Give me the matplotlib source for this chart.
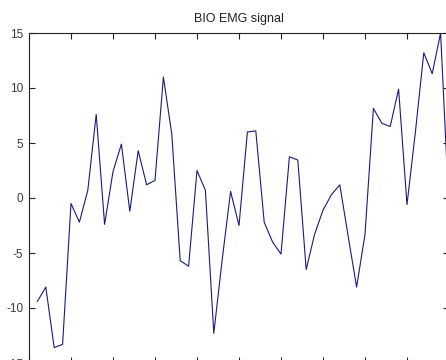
import numpy as np
import matplotlib
matplotlib.use("Agg")
import matplotlib.pyplot as plt

# ============================================================
# Data
# ============================================================
sample_idx = np.arange(1, 51)
emg_values = [
    -9.4, -8.1, -13.6, -13.3, -0.5, -2.2, 0.7, 7.6, -2.4, 2.4,
    4.9, -1.2, 4.3, 1.2, 1.6, 11.0, 5.8, -5.7, -6.2, 2.5,
    0.7, -12.3, -5.6, 0.6, -2.5, 6.0, 6.1, -2.2, -4.0, -5.1,
    3.75, 3.45, -6.5, -3.3, -1.1, 0.3, 1.2, -3.5, -8.1, -3.3,
    8.15, 6.8, 6.5, 9.9, -0.6, 6.0, 13.2, 11.3, 15.0, -1.0,
]
x_ticks = np.arange(0, 51, 5)
y_ticks = [-15, -10, -5, 0, 5, 10, 15]

# ============================================================
# MATLAB-like look
# ============================================================
plt.rcParams['font.family'] = ['Liberation Sans', 'DejaVu Sans']
plt.rcParams['axes.unicode_minus'] = False

W, H = 446, 360
fig = plt.figure(figsize=(W / 100, H / 100), dpi=100)
fig.patch.set_facecolor('white')

# axes box runs past the bottom/right edge (reference is a cropped figure)
ax = fig.add_axes([29 / W, -3 / H, 420 / W, 330 / H])
ax.plot(sample_idx, emg_values, color='#1a1a80', linewidth=0.8)

ax.set_xlim(0, 50)
ax.set_ylim(-15, 15)
ax.set_xticks(x_ticks)
ax.set_xticklabels([])
ax.set_yticks(y_ticks)
ax.set_yticklabels([str(v) for v in y_ticks])

ax.tick_params(direction='in', length=4, width=0.8, top=True, right=True,
               labelsize=8.5, colors='#222222', labelcolor='#3a3a3a', pad=4)
for sp in ax.spines.values():
    sp.set_color('#222222')
    sp.set_linewidth(0.8)

fig.text(239 / W, 1 - 19 / H, "BIO EMG signal", ha='center', va='center',
         fontsize=9, color='#222222')

plt.savefig("out.png", dpi=100, facecolor='white')
